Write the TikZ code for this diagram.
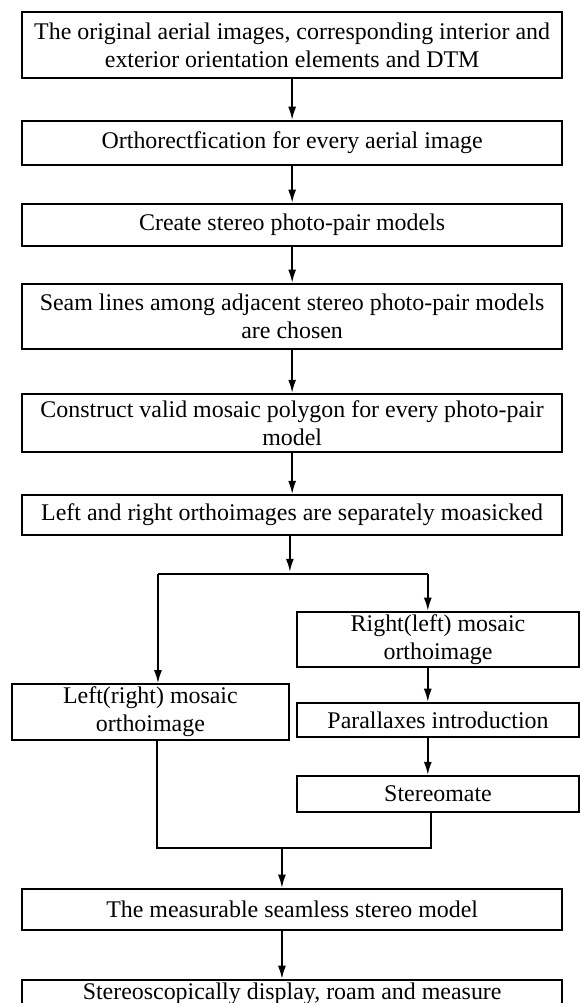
\documentclass[tikz,border=0pt]{standalone}
\usepackage{fontspec}
\setmainfont{Liberation Serif}
\usetikzlibrary{arrows.meta}

\begin{document}
\begin{tikzpicture}[
    paso/.style={rectangle, draw=black, line width=1.4pt, align=center, font=\fontsize{18}{21}\selectfont, inner sep=2pt},
    ancho/.style={paso, minimum width=14.29cm},
    rama/.style={paso, minimum width=7.46cm},
    flujo/.style={-{Latex[length=10pt,width=6pt]}, line width=1.4pt},
    linea/.style={line width=1.1pt},
]
\useasboundingbox (0,0) rectangle (15.35,-26.54);

\node (orig) [ancho, minimum height=1.75cm] at (7.73,-1.19) {The original aerial images, corresponding interior and\\ exterior orientation elements and DTM};

\node (orthorect) [ancho, minimum height=1.16cm] at (7.73,-3.78) {Orthorectfication for every aerial image};

\node (pairs) [ancho, minimum height=1.11cm] at (7.73,-5.95) {Create stereo photo-pair models};

\node (seam) [ancho, minimum height=1.72cm] at (7.73,-8.37) {Seam lines among adjacent stereo photo-pair models\\ are chosen};

\node (polygon) [ancho, minimum height=1.53cm] at (7.73,-11.19) {Construct valid mosaic polygon for every photo-pair\\ model};

\node (mosaic) [ancho, minimum height=1.06cm] at (7.73,-13.63) {Left and right orthoimages are separately moasicked};

\node (rightmos) [rama, minimum height=1.46cm] at (11.59,-16.92) {Right(left) mosaic\\ orthoimage};

\node (leftmos) [paso, minimum width=7.33cm, minimum height=1.38cm] at (3.98,-18.84) {Left(right) mosaic\\ orthoimage};

\node (parallax) [rama, minimum height=0.90cm] at (11.59,-19.05) {Parallaxes introduction};

\node (stereomate) [rama, minimum height=0.95cm] at (11.59,-21.01) {Stereomate};

\node (seamless) [ancho, minimum height=1.08cm] at (7.73,-24.06) {The measurable seamless stereo model};

\node (display) [ancho, minimum height=0.74cm] at (7.73,-26.30) {Stereoscopically display, roam and measure};

% split and merge points
\coordinate (split) at (7.67,-15.19);
\coordinate (forkL) at (4.18,-15.19);
\coordinate (forkR) at (11.32,-15.19);
\coordinate (mergeL) at (4.15,-22.44);
\coordinate (mergeR) at (11.40,-22.44);
\coordinate (merge) at (7.46,-22.44);

\draw [flujo] (orig) -- (orthorect);
\draw [flujo] (orthorect) -- (pairs);
\draw [flujo] (pairs) -- (seam);
\draw [flujo] (seam) -- (polygon);
\draw [flujo] (polygon) -- (mosaic);
\draw [flujo] (mosaic.south -| split) -- ([yshift=1.5pt]split);

\draw [linea] (forkL) -- (forkR);
\draw [flujo] (forkL) -- (forkL |- leftmos.north);
\draw [flujo] (forkR) -- (forkR |- rightmos.north);
\draw [flujo] (rightmos.south -| forkR) -- (forkR |- parallax.north);
\draw [flujo] (parallax.south -| forkR) -- (forkR |- stereomate.north);

\draw [linea] (leftmos.south -| mergeL) -- (mergeL) -- (mergeR) -- (stereomate.south -| mergeR);
\draw [flujo] (merge) -- (merge |- seamless.north);
\draw [flujo] (seamless.south -| merge) -- (merge |- display.north);

\end{tikzpicture}
\end{document}
